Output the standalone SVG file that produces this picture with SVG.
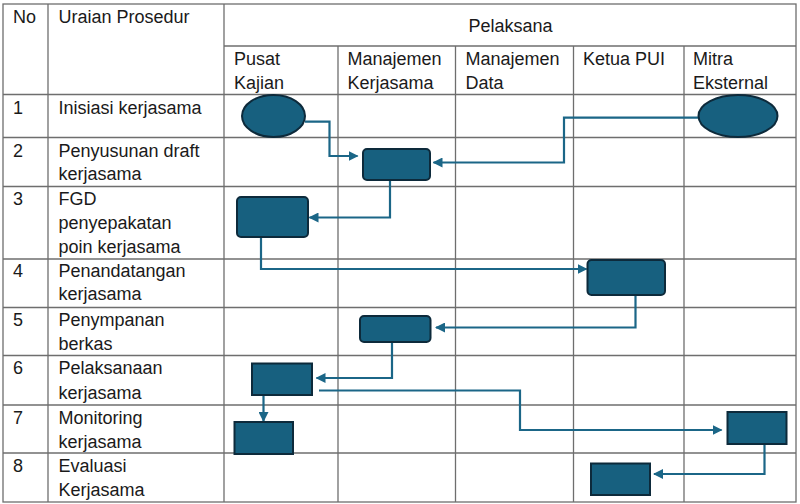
<svg xmlns="http://www.w3.org/2000/svg" width="800" height="504" viewBox="0 0 800 504">
<style>
.g{stroke:#6e6e6e;stroke-width:1.3;fill:none}
.t{font-family:"Liberation Sans",Arial,sans-serif;font-size:18px;fill:#1a1a1a}
.n{fill:#17607f;stroke:#0d2a3b;stroke-width:2}
.c{fill:none;stroke:#1b6687;stroke-width:2.2;marker-end:url(#ah)}
.c2{fill:none;stroke:#1b6687;stroke-width:2.2}
</style>
<defs>
<marker id="ah" markerUnits="userSpaceOnUse" markerWidth="10" markerHeight="10" refX="9" refY="5" orient="auto">
<path d="M0,0 L10,5 L0,10 z" fill="#1b6687"/>
</marker>
</defs>
<rect width="800" height="504" fill="#ffffff"/>
<g id="grid">
<rect class="g" x="3" y="4" width="793" height="498"/>
<line class="g" x1="48" y1="4" x2="48" y2="502"/>
<line class="g" x1="224" y1="4" x2="224" y2="502"/>
<line class="g" x1="224" y1="46" x2="796" y2="46"/>
<line class="g" x1="338" y1="46" x2="338" y2="502"/>
<line class="g" x1="455.5" y1="46" x2="455.5" y2="502"/>
<line class="g" x1="573.5" y1="46" x2="573.5" y2="502"/>
<line class="g" x1="684" y1="46" x2="684" y2="502"/>
<line class="g" x1="3" y1="94.5" x2="796" y2="94.5"/>
<line class="g" x1="3" y1="137.5" x2="796" y2="137.5"/>
<line class="g" x1="3" y1="186.5" x2="796" y2="186.5"/>
<line class="g" x1="3" y1="259" x2="796" y2="259"/>
<line class="g" x1="3" y1="307.5" x2="796" y2="307.5"/>
<line class="g" x1="3" y1="355.5" x2="796" y2="355.5"/>
<line class="g" x1="3" y1="405" x2="796" y2="405"/>
<line class="g" x1="3" y1="453" x2="796" y2="453"/>
</g>
<g id="labels">
<text class="t" x="13" y="22.5">No</text>
<text class="t" x="58.5" y="22.5">Uraian Prosedur</text>
<text class="t" x="510.5" y="31.5" text-anchor="middle">Pelaksana</text>
<text class="t" x="234" y="65">Pusat</text>
<text class="t" x="234" y="88.5">Kajian</text>
<text class="t" x="347.5" y="65">Manajemen</text>
<text class="t" x="347.5" y="88.5">Kerjasama</text>
<text class="t" x="465.5" y="65">Manajemen</text>
<text class="t" x="465.5" y="88.5">Data</text>
<text class="t" x="583" y="65">Ketua PUI</text>
<text class="t" x="693" y="65">Mitra</text>
<text class="t" x="693" y="88.5">Eksternal</text>
<text class="t" x="13" y="113.5">1</text>
<text class="t" x="58.5" y="113.5">Inisiasi kerjasama</text>
<text class="t" x="13" y="156.5">2</text>
<text class="t" x="58.5" y="156.5">Penyusunan draft</text>
<text class="t" x="58.5" y="180">kerjasama</text>
<text class="t" x="13" y="205">3</text>
<text class="t" x="58.5" y="205">FGD</text>
<text class="t" x="58.5" y="229">penyepakatan</text>
<text class="t" x="58.5" y="252.5">poin kerjasama</text>
<text class="t" x="13" y="277">4</text>
<text class="t" x="58.5" y="277">Penandatangan</text>
<text class="t" x="58.5" y="300">kerjasama</text>
<text class="t" x="13" y="325.5">5</text>
<text class="t" x="58.5" y="325.5">Penympanan</text>
<text class="t" x="58.5" y="349.5">berkas</text>
<text class="t" x="13" y="374">6</text>
<text class="t" x="58.5" y="374">Pelaksanaan</text>
<text class="t" x="58.5" y="398.5">kerjasama</text>
<text class="t" x="13" y="423.5">7</text>
<text class="t" x="58.5" y="423.5">Monitoring</text>
<text class="t" x="58.5" y="447.5">kerjasama</text>
<text class="t" x="13" y="472">8</text>
<text class="t" x="58.5" y="472">Evaluasi</text>
<text class="t" x="58.5" y="496">Kerjasama</text>
</g>
<g id="connectors">
<polyline class="c" points="305,121.7 329.5,121.7 329.5,156 357.5,156"/>
<polyline class="c" points="698,117.7 564,117.7 564,162.5 433.5,162.5"/>
<polyline class="c" points="390,180 390,217.5 309.5,217.5"/>
<polyline class="c" points="261,237 261,269 586.5,269"/>
<polyline class="c" points="635.5,295 635.5,327.5 436,327.5"/>
<polyline class="c" points="392,342 392,378 316.5,378"/>
<polyline class="c" points="319,390.5 520,390.5 520,430 721.5,430"/>
<polyline class="c" points="263.5,395 263.5,421"/>
<polyline class="c" points="764.5,444 764.5,474 654,474"/>
</g>
<g id="n1a"><ellipse class="n" cx="273.5" cy="116" rx="31.5" ry="21"/></g>
<g id="n1b"><ellipse class="n" cx="738" cy="116" rx="39.5" ry="21"/></g>
<g id="n2"><rect class="n" x="363" y="149" width="67" height="31" rx="4"/></g>
<g id="n3"><rect class="n" x="237" y="197" width="71" height="40" rx="4"/></g>
<g id="n4"><rect class="n" x="587.5" y="260" width="77.5" height="35" rx="4"/></g>
<g id="n5"><rect class="n" x="360" y="316" width="70.5" height="26" rx="4"/></g>
<g id="n6"><rect class="n" x="252" y="363.5" width="60" height="31.5"/></g>
<g id="n7a"><rect class="n" x="234.5" y="422" width="58.5" height="32"/></g>
<g id="n7b"><rect class="n" x="727.5" y="412" width="59" height="32"/></g>
<g id="n8"><rect class="n" x="591" y="463.5" width="59" height="31.5"/></g>
</svg>
